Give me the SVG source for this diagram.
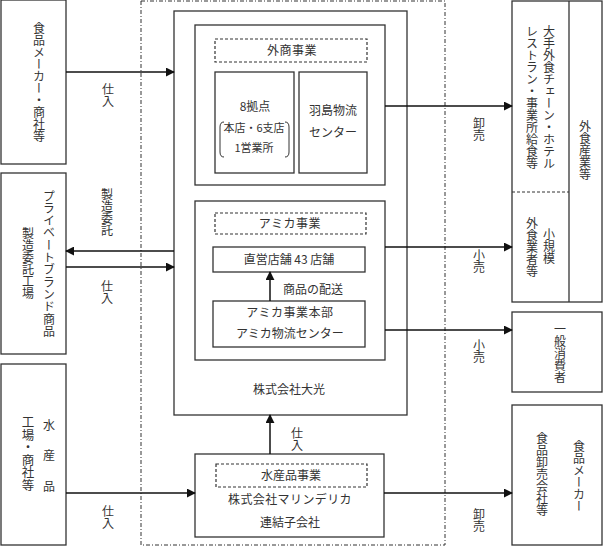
<svg xmlns="http://www.w3.org/2000/svg" width="603" height="546" viewBox="0 0 603 546">
<style>
text{font-family:"Noto Sans CJK JP","Noto Sans CJK SC",sans-serif;font-size:12px;fill:#333}
.v{writing-mode:vertical-rl}
.c{text-anchor:middle}
.box{fill:#fff;stroke:#333;stroke-width:1.3}
.dash{fill:none;stroke:#333;stroke-width:1.2;stroke-dasharray:3,2}
.ln{fill:none;stroke:#111;stroke-width:1.5}
</style>
<defs>
<marker id="ah" viewBox="0 0 10 10" refX="9" refY="5" markerWidth="9" markerHeight="9" markerUnits="userSpaceOnUse" orient="auto">
<path d="M0,0 L10,5 L0,10 z" fill="#111"/>
</marker>
</defs>
<rect width="603" height="546" fill="#fff"/>
<rect x="141" y="1" width="304" height="544" fill="none" stroke="#333" stroke-width="1" stroke-dasharray="4,2,1,2"/>

<g id="src-food">
<rect class="box" x="1" y="0" width="65" height="164"/>
<text class="v" x="39" y="22">食品メーカー・商社等</text>
</g>
<g id="src-pb">
<rect class="box" x="1" y="173" width="65" height="181"/>
<text class="v" x="49" y="190" style="letter-spacing:0.3px">プライベートブランド商品</text>
<text class="v" x="28" y="227">製造委託工場</text>
</g>
<g id="src-fish">
<rect class="box" x="1" y="364" width="65" height="181"/>
<text class="v" x="49" y="419" style="letter-spacing:18.5px">水産品</text>
<text class="v" x="28" y="416" style="font-size:12.5px">工場・商社等</text>
</g>

<g id="daiko">
<rect class="box" x="174" y="11" width="233" height="404"/>
<text class="c" x="289" y="394">株式会社大光</text>
</g>
<g id="gaisho">
<rect class="box" x="195" y="25" width="190" height="160"/>
<rect class="dash" x="215" y="39" width="152" height="23"/>
<text class="c" x="292" y="55" style="letter-spacing:0.5px">外商事業</text>
</g>
<g id="kyoten">
<rect class="box" x="215" y="72" width="79" height="101"/>
<text class="c" x="255" y="111">8拠点</text>
<text class="c" x="254" y="132" style="font-size:11px">本店・6支店</text>
<text class="c" x="254" y="152" style="font-size:11px">1営業所</text>
<path d="M224,122 Q220,122 220,127 L220,152 Q220,157 224,157" fill="none" stroke="#333" stroke-width="1"/>
<path d="M285,122 Q289,122 289,127 L289,152 Q289,157 285,157" fill="none" stroke="#333" stroke-width="1"/>
</g>
<g id="hashima">
<rect class="box" x="299" y="72" width="68" height="101"/>
<text class="c" x="333" y="115">羽島物流</text>
<text class="c" x="333" y="137">センター</text>
</g>
<g id="amica">
<rect class="box" x="195" y="201" width="190" height="159"/>
<rect class="dash" x="215" y="213" width="151" height="21"/>
<text class="c" x="290" y="228" style="letter-spacing:0.5px">アミカ事業</text>
</g>
<g id="chokuei">
<rect class="box" x="213" y="247" width="152" height="25"/>
<text class="c" x="289" y="264">直営店舗 43 店舗</text>
</g>
<g id="amica-hq">
<rect class="box" x="213" y="301" width="152" height="46"/>
<text class="c" x="290" y="317" style="letter-spacing:0.5px">アミカ事業本部</text>
<text class="c" x="290" y="338">アミカ物流センター</text>
</g>
<g id="marine">
<rect class="box" x="195" y="454" width="189" height="83"/>
<rect class="dash" x="216" y="464" width="151" height="23"/>
<text class="c" x="291" y="480">水産品事業</text>
<text class="c" x="290" y="504" style="letter-spacing:0.4px">株式会社マリンデリカ</text>
<text class="c" x="290" y="527">連結子会社</text>
</g>

<g id="dst-gaishoku">
<rect class="box" x="512" y="1" width="90" height="301"/>
<line x1="569" y1="1" x2="569" y2="302" stroke="#333" stroke-width="1.3"/>
<line x1="512" y1="192" x2="569" y2="192" stroke="#333" stroke-width="1" stroke-dasharray="3,2"/>
<text class="v" x="549" y="25">大手外食チェーン・ホテル</text>
<text class="v" x="532" y="25">レストラン・事業所給食等</text>
<text class="v" x="585" y="120">外食産業等</text>
<text class="v" x="549" y="228">小規模</text>
<text class="v" x="532" y="217">外食業者等</text>
</g>
<g id="dst-consumer">
<rect class="box" x="512" y="312" width="90" height="80"/>
<text class="v" x="560" y="323">一般消費者</text>
</g>
<g id="dst-wholesale">
<rect class="box" x="512" y="405" width="90" height="140"/>
<text class="v" x="542" y="432">食品卸売会社等</text>
<text class="v" x="579" y="440">食品メーカー</text>
</g>

<g id="connectors">
<line class="ln" x1="66" y1="72" x2="174" y2="72" marker-end="url(#ah)"/>
<line class="ln" x1="174" y1="251" x2="66" y2="251" marker-end="url(#ah)"/>
<line class="ln" x1="66" y1="267" x2="174" y2="267" marker-end="url(#ah)"/>
<line class="ln" x1="66" y1="493" x2="195" y2="493" marker-end="url(#ah)"/>
<line class="ln" x1="385" y1="106" x2="512" y2="106" marker-end="url(#ah)"/>
<line class="ln" x1="385" y1="247" x2="512" y2="247" marker-end="url(#ah)"/>
<line class="ln" x1="385" y1="330" x2="512" y2="330" marker-end="url(#ah)"/>
<line class="ln" x1="384" y1="493" x2="512" y2="493" marker-end="url(#ah)"/>
<line class="ln" x1="270" y1="301" x2="270" y2="272" marker-end="url(#ah)"/>
<line class="ln" x1="270" y1="454" x2="270" y2="415" marker-end="url(#ah)"/>
<text class="v" x="108" y="83">仕入</text>
<text class="v" x="107" y="188">製造委託</text>
<text class="v" x="107" y="280">仕入</text>
<text class="v" x="108" y="505">仕入</text>
<text class="v" x="479" y="117">卸売</text>
<text class="v" x="479" y="249">小売</text>
<text class="v" x="479" y="339">小売</text>
<text class="v" x="479" y="508">卸売</text>
<text class="v" x="297" y="427">仕入</text>
<text x="313" y="294" class="c">商品の配送</text>
</g>
</svg>
